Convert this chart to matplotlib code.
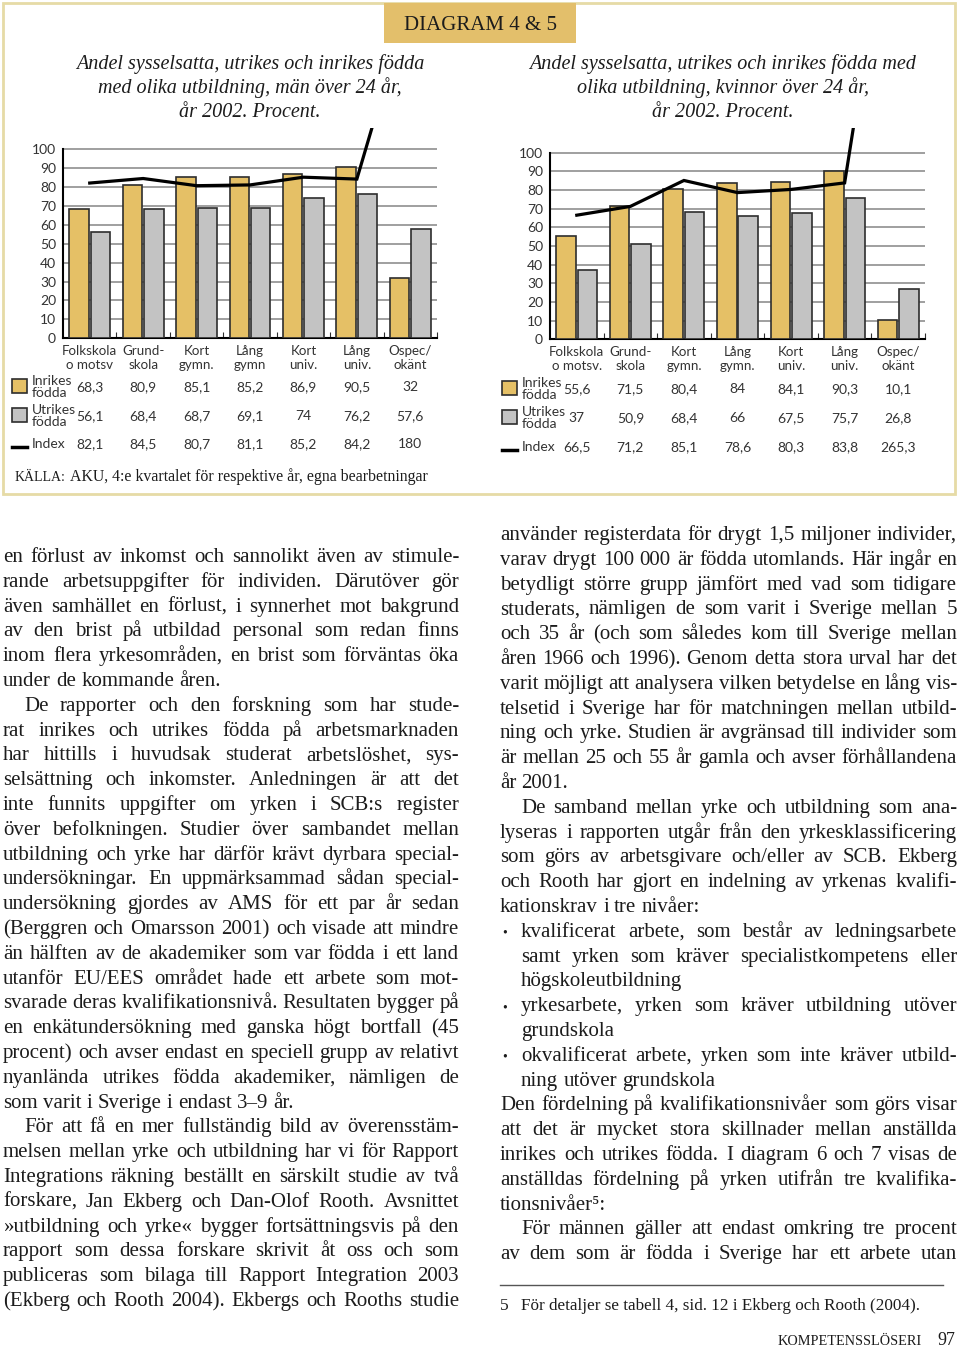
import numpy as np
import matplotlib
matplotlib.use('Agg')
import matplotlib.pyplot as plt
from matplotlib.patches import Rectangle
from matplotlib.lines import Line2D
from matplotlib.transforms import blended_transform_factory

# data for diagram 4 (men) and 5 (women)
cats_men = ['Folkskola\no motsv', 'Grund-\nskola', 'Kort\ngymn.', 'Lång\ngymn',
            'Kort\nuniv.', 'Lång\nuniv.', 'Ospec/\nokänt']
cats_women = ['Folkskola\no motsv.', 'Grund-\nskola', 'Kort\ngymn.', 'Lång\ngymn.',
              'Kort\nuniv.', 'Lång\nuniv.', 'Ospec/\nokänt']
men_inrikes = [68.3, 80.9, 85.1, 85.2, 86.9, 90.5, 32]
men_utrikes = [56.1, 68.4, 68.7, 69.1, 74, 76.2, 57.6]
men_index = [82.1, 84.5, 80.7, 81.1, 85.2, 84.2, 180]
women_inrikes = [55.6, 71.5, 80.4, 84, 84.1, 90.3, 10.1]
women_utrikes = [37, 50.9, 68.4, 66, 67.5, 75.7, 26.8]
women_index = [66.5, 71.2, 85.1, 78.6, 80.3, 83.8, 265.3]
yticks = list(range(0, 101, 10))

title_men = ['Andel sysselsatta, utrikes och inrikes födda',
             'med olika utbildning, män över 24 år,', 'år 2002. Procent.']
title_women = ['Andel sysselsatta, utrikes och inrikes födda med',
               'olika utbildning, kvinnor över 24 år,', 'år 2002. Procent.']

W, H = 960, 1348
GOLD = '#e5c066'
GREY = '#c3c3c3'
EDGE = '#2e2e2e'
INK = '#1c1c1c'
SERIF = ['Liberation Serif', 'DejaVu Serif']
SANS = ['Lato', 'DejaVu Sans']

fig = plt.figure(figsize=(W / 100, H / 100), dpi=100)
fig.patch.set_facecolor('white')
renderer = fig.canvas.get_renderer()


def px(x, y):
    return x / W, 1 - y / H


def width_of(s, **kw):
    t = fig.text(0, 0, s, **kw)
    w = t.get_window_extent(renderer).width
    t.remove()
    return w


def fmt(v):
    return f'{v:g}'.replace('.', ',')


# panel frame and header
fig.patches.append(Rectangle(px(3, 494), 952 / W, 491 / H, transform=fig.transFigure,
                             fill=False, edgecolor='#e6dba6', lw=2))
fig.patches.append(Rectangle(px(384, 43), 192 / W, 40 / H, transform=fig.transFigure,
                             facecolor='#e3bf6b', edgecolor='none'))
fig.text(*px(480, 25), 'DIAGRAM 4 & 5', family=SERIF, fontsize=15, ha='center',
         va='center', color=INK)


def draw_chart(rect, ymax, cats, inrikes, utrikes, index, title, tcx, rows_y, cat_y, leg_x):
    x0, x1, ytop, ybot = rect
    ax = fig.add_axes([x0 / W, 1 - ybot / H, (x1 - x0) / W, (ybot - ytop) / H])
    x = np.arange(len(cats))
    ax.bar(x - 0.2, inrikes, width=0.365, color=GOLD, edgecolor=EDGE, lw=1.2, zorder=3)
    ax.bar(x + 0.2, utrikes, width=0.365, color=GREY, edgecolor=EDGE, lw=1.2, zorder=3)
    ax.plot(x, index, color='black', lw=2.3, zorder=4, solid_joinstyle='miter')
    ax.set_xlim(-0.5, len(cats) - 0.5)
    ax.set_ylim(0, ymax)
    ax.set_yticks(yticks)
    ax.set_yticklabels([str(v) for v in yticks], family=SANS, fontsize=10, color='#333333')
    ax.set_xticks(np.arange(0.5, len(cats), 1))
    ax.set_xticklabels([])
    ax.tick_params(axis='y', length=0, pad=5)
    ax.tick_params(axis='x', direction='in', length=4, color=EDGE)
    ax.yaxis.grid(True, color='#8f8f8f', lw=1.2, zorder=1)
    ax.set_axisbelow(True)
    for s in ['top', 'right']:
        ax.spines[s].set_visible(False)
    ax.spines['left'].set_bounds(0, 100)
    ax.spines['left'].set_linewidth(1.5)
    ax.spines['bottom'].set_linewidth(1.5)
    ax.patch.set_alpha(0)

    # title
    for i, line in enumerate(title):
        fig.text(*px(tcx, 69 + 24 * i), line, family=SERIF, style='italic', fontsize=14.5,
                 ha='center', va='baseline', color=INK)

    # table under the chart
    tr = blended_transform_factory(ax.transData, fig.transFigure)
    for i, c in enumerate(cats):
        ax.text(i, 1 - cat_y / H, c, transform=tr, family=SANS, fontsize=9.6, ha='center',
                va='center', linespacing=1.15, color='#333333')
    for row, vals in zip(rows_y, [inrikes, utrikes, index]):
        for i, v in enumerate(vals):
            ax.text(i, 1 - row / H, fmt(v), transform=tr, family=SANS, fontsize=10,
                    ha='center', va='center', color='#333333')

    # legend keys
    for row, col, lab in zip(rows_y[:2], [GOLD, GREY], ['Inrikes\nfödda', 'Utrikes\nfödda']):
        fig.patches.append(Rectangle(px(leg_x, row + 6), 15 / W, 14 / H,
                                     transform=fig.transFigure, facecolor=col,
                                     edgecolor=EDGE, lw=1.2))
        fig.text(*px(leg_x + 20, row), lab, family=SANS, fontsize=10, ha='left',
                 va='center', linespacing=1.0, color='#333333')
    fig.lines.append(Line2D([leg_x / W, (leg_x + 15) / W], [1 - (rows_y[2] + 3) / H] * 2,
                            transform=fig.transFigure, color='black', lw=2.5))
    fig.text(*px(leg_x + 20, rows_y[2]), 'Index', family=SANS, fontsize=10, ha='left',
             va='center', color='#333333')
    return ax


draw_chart((63, 437, 128.2, 338.3), 111.1, cats_men, men_inrikes, men_utrikes, men_index,
           title_men, 250, [387, 416, 444], 358, 12)
draw_chart((550, 925, 128.4, 339.3), 113, cats_women, women_inrikes, women_utrikes,
           women_index, title_women, 723, [389, 418, 447], 359, 502)

# source line
k = fig.text(*px(15, 481), 'KÄLLA:', family=SERIF, fontsize=10, va='baseline', color=INK)
kw = k.get_window_extent(renderer).width
fig.text(*px(15 + kw + 4, 481), 'AKU, 4:e kvartalet för respektive år, egna bearbetningar',
         family=SERIF, fontsize=11.4, va='baseline', color=INK)

# body text
BODY = 15.0
space_w = width_of('a a', family=SERIF, fontsize=BODY) - width_of('aa', family=SERIF, fontsize=BODY)


def put_line(line, xa, xb, y, justify):
    words = line.split(' ')
    widths = [width_of(w, family=SERIF, fontsize=BODY) for w in words]
    gap = space_w
    if justify and len(words) > 1:
        gap = max((xb - xa - sum(widths)) / (len(words) - 1), 0.5 * space_w)
    xx = xa
    for w, wd in zip(words, widths):
        fig.text(*px(xx, y), w, family=SERIF, fontsize=BODY, va='baseline', color=INK)
        xx += wd + gap


def set_column(paras, xa, xb, y0, step=24.8):
    y = y0
    for p in paras:
        lines = p['lines']
        for i, ln in enumerate(lines):
            last = i == len(lines) - 1 and not p.get('cont', False)
            xs = xa + p.get('hang', 0) + (p.get('indent', 0) if i == 0 else 0)
            if p.get('bullet') and i == 0:
                fig.text(*px(xa + 2, y), '•', family=SERIF, fontsize=10, va='baseline',
                         color=INK)
            put_line(ln, xs, xb, y, not last)
            y += step


left_col = [
    {'lines': ['en förlust av inkomst och sannolikt även av stimule-',
               'rande arbetsuppgifter för individen. Därutöver gör',
               'även samhället en förlust, i synnerhet mot bakgrund',
               'av den brist på utbildad personal som redan finns',
               'inom flera yrkesområden, en brist som förväntas öka',
               'under de kommande åren.']},
    {'indent': 21,
     'lines': ['De rapporter och den forskning som har stude-',
               'rat inrikes och utrikes födda på arbetsmarknaden',
               'har hittills i huvudsak studerat arbetslöshet, sys-',
               'selsättning och inkomster. Anledningen är att det',
               'inte funnits uppgifter om yrken i SCB:s register',
               'över befolkningen. Studier över sambandet mellan',
               'utbildning och yrke har därför krävt dyrbara special-',
               'undersökningar. En uppmärksammad sådan special-',
               'undersökning gjordes av AMS för ett par år sedan',
               '(Berggren och Omarsson 2001) och visade att mindre',
               'än hälften av de akademiker som var födda i ett land',
               'utanför EU/EES området hade ett arbete som mot-',
               'svarade deras kvalifikationsnivå. Resultaten bygger på',
               'en enkätundersökning med ganska högt bortfall (45',
               'procent) och avser endast en speciell grupp av relativt',
               'nyanlända utrikes födda akademiker, nämligen de',
               'som varit i Sverige i endast 3–9 år.']},
    {'indent': 21, 'cont': True,
     'lines': ['För att få en mer fullständig bild av överensstäm-',
               'melsen mellan yrke och utbildning har vi för Rapport',
               'Integrations räkning beställt en särskilt studie av två',
               'forskare, Jan Ekberg och Dan-Olof Rooth. Avsnittet',
               '»utbildning och yrke« bygger fortsättningsvis på den',
               'rapport som dessa forskare skrivit åt oss och som',
               'publiceras som bilaga till Rapport Integration 2003',
               '(Ekberg och Rooth 2004). Ekbergs och Rooths studie']},
]

right_col = [
    {'lines': ['använder registerdata för drygt 1,5 miljoner individer,',
               'varav drygt 100 000 är födda utomlands. Här ingår en',
               'betydligt större grupp jämfört med vad som tidigare',
               'studerats, nämligen de som varit i Sverige mellan 5',
               'och 35 år (och som således kom till Sverige mellan',
               'åren 1966 och 1996). Genom detta stora urval har det',
               'varit möjligt att analysera vilken betydelse en lång vis-',
               'telsetid i Sverige har för matchningen mellan utbild-',
               'ning och yrke. Studien är avgränsad till individer som',
               'är mellan 25 och 55 år gamla och avser förhållandena',
               'år 2001.']},
    {'indent': 21,
     'lines': ['De samband mellan yrke och utbildning som ana-',
               'lyseras i rapporten utgår från den yrkesklassificering',
               'som görs av arbetsgivare och/eller av SCB. Ekberg',
               'och Rooth har gjort en indelning av yrkenas kvalifi-',
               'kationskrav i tre nivåer:']},
    {'bullet': True, 'hang': 21,
     'lines': ['kvalificerat arbete, som består av ledningsarbete',
               'samt yrken som kräver specialistkompetens eller',
               'högskoleutbildning']},
    {'bullet': True, 'hang': 21,
     'lines': ['yrkesarbete, yrken som kräver utbildning utöver',
               'grundskola']},
    {'bullet': True, 'hang': 21,
     'lines': ['okvalificerat arbete, yrken som inte kräver utbild-',
               'ning utöver grundskola']},
    {'lines': ['Den fördelning på kvalifikationsnivåer som görs visar',
               'att det är mycket stora skillnader mellan anställda',
               'inrikes och utrikes födda. I diagram 6 och 7 visas de',
               'anställdas fördelning på yrken utifrån tre kvalifika-',
               'tionsnivåer⁵:']},
    {'indent': 21, 'cont': True,
     'lines': ['För männen gäller att endast omkring tre procent',
               'av dem som är födda i Sverige har ett arbete utan']},
]

set_column(left_col, 3, 459, 562)
set_column(right_col, 500, 957, 540)

# footnote
fig.lines.append(Line2D([500 / W, 943 / W], [1 - 1285 / H] * 2, transform=fig.transFigure,
                        color='#555555', lw=1))
fig.text(*px(500, 1310), '5', family=SERIF, fontsize=12.5, va='baseline', color=INK)
fig.text(*px(521, 1310), 'För detaljer se tabell 4, sid. 12 i Ekberg och Rooth (2004).',
         family=SERIF, fontsize=12.3, va='baseline', color=INK)

# running footer
fig.text(*px(922, 1345), 'KOMPETENSSLÖSERI', family=SERIF, fontsize=10.3, ha='right',
         va='baseline', color=INK)
fig.text(*px(955, 1345), '97', family=SERIF, fontsize=13, ha='right', va='baseline',
         color=INK)

fig.savefig('out.png', dpi=100)
